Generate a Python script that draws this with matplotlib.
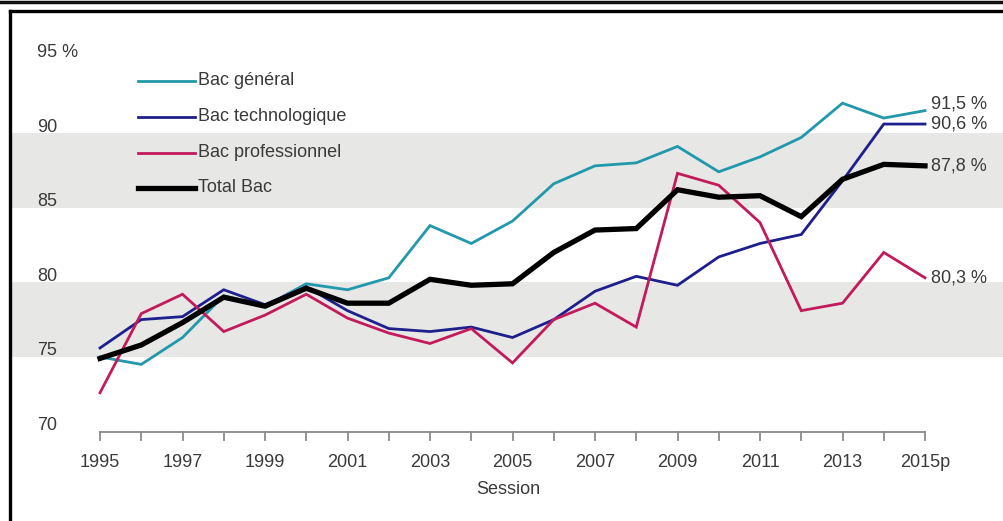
import matplotlib
matplotlib.use("Agg")
import matplotlib.pyplot as plt
from matplotlib.lines import Line2D

plt.rcParams['font.family'] = ['Liberation Sans', 'DejaVu Sans']

# Data
years = list(range(1995, 2016))
tick_years = list(range(1995, 2016, 2))
tick_labels = [str(y) for y in tick_years[:-1]] + ["2015p"]

bac_general = [75.0, 74.5, 76.3, 79.1, 78.4, 79.9, 79.5, 80.3, 83.8, 82.6, 84.1,
               86.6, 87.8, 88.0, 89.1, 87.4, 88.4, 89.7, 92.0, 91.0, 91.5]
bac_techno = [75.6, 77.5, 77.7, 79.5, 78.5, 79.7, 78.1, 76.9, 76.7, 77.0, 76.3,
              77.5, 79.4, 80.4, 79.8, 81.7, 82.6, 83.2, 86.8, 90.6, 90.6]
bac_pro = [72.6, 77.9, 79.2, 76.7, 77.8, 79.2, 77.6, 76.6, 75.9, 76.9, 74.6,
           77.5, 78.6, 77.0, 87.3, 86.5, 84.0, 78.1, 78.6, 82.0, 80.3]
total_bac = [74.9, 75.8, 77.3, 79.0, 78.4, 79.6, 78.6, 78.6, 80.2, 79.8, 79.9,
             82.0, 83.5, 83.6, 86.2, 85.7, 85.8, 84.4, 86.9, 87.9, 87.8]

series = [
    ("Bac général", bac_general, "#2198ab", 2.0),
    ("Bac technologique", bac_techno, "#1d1f8c", 2.0),
    ("Bac professionnel", bac_pro, "#c21a5b", 2.0),
    ("Total Bac", total_bac, "#000000", 3.8),
]
bands = [(75, 80), (85, 90)]
y_labels = [70, 75, 80, 85, 90, 95]

text_color = "#3a3a3a"
fs = 13

fig = plt.figure(figsize=(10.04, 5.21), dpi=100)
ax = fig.add_axes([0, 0, 1, 1])
px_year = 41.25
x0 = 1995 - 100 / px_year
x1 = 1995 + 904 / px_year
ax.set_xlim(x0, x1)
ax.set_ylim(64.01, 98.91)
ax.axis("off")

# shaded bands
for lo, hi in bands:
    ax.axhspan(lo, hi, xmin=12 / 1004, xmax=1, color="#e7e7e6", lw=0, zorder=0)

# lines
for name, vals, col, lw in series:
    ax.plot(years, vals, color=col, lw=lw, solid_joinstyle="miter", zorder=3)

# end labels
offsets = {"Bac général": 0.45, "Bac technologique": 0.0,
           "Bac professionnel": 0.0, "Total Bac": 0.0}
for (name, vals, col, lw) in series:
    lbl = f"{vals[-1]:.1f} %".replace(".", ",")
    ax.text(years[-1] + 0.15, vals[-1] + offsets[name], lbl, ha="left", va="center",
            fontsize=fs, color=text_color)

# x axis
ax.plot([years[0], years[-1]], [70, 70], color="#8a8a8a", lw=1.3, zorder=2)
for y in years:
    ax.plot([y, y], [70, 69.45], color="#8a8a8a", lw=1.3, zorder=2)
for y, lbl in zip(tick_years, tick_labels):
    ax.text(y, 67.95, lbl, ha="center", va="center", fontsize=fs, color=text_color)
ax.text(2004.9, 66.1, "Session", ha="center", va="center", fontsize=fs, color=text_color)

# y labels
for v in y_labels:
    ax.text(1993.47, v + 0.4, f"{v} %" if v == 95 else str(v), ha="left", va="center",
            fontsize=fs, color=text_color)

# legend
leg_y = [81, 117, 153, 188]
for (name, vals, col, lw), py in zip(series, leg_y):
    yv = 98.91 - py / 14.93
    ax.plot([x0 + 138 / px_year, x0 + 195 / px_year], [yv, yv], color=col, lw=lw, zorder=3)
    ax.text(x0 + 198 / px_year, yv, name, ha="left", va="center", fontsize=fs, color=text_color)

# frame
W, H = 1004, 521
fig.add_artist(Line2D([0, 1], [1 - 1.5 / H, 1 - 1.5 / H], color="#111111", lw=2.5,
                      transform=fig.transFigure))
fig.add_artist(Line2D([9.5 / W, 1], [1 - 10.5 / H, 1 - 10.5 / H], color="#000000", lw=2.4,
                      transform=fig.transFigure))
fig.add_artist(Line2D([9.5 / W, 9.5 / W], [0, 1 - 10.5 / H], color="#000000", lw=2.4,
                      transform=fig.transFigure))

fig.savefig("out.png", dpi=100)
